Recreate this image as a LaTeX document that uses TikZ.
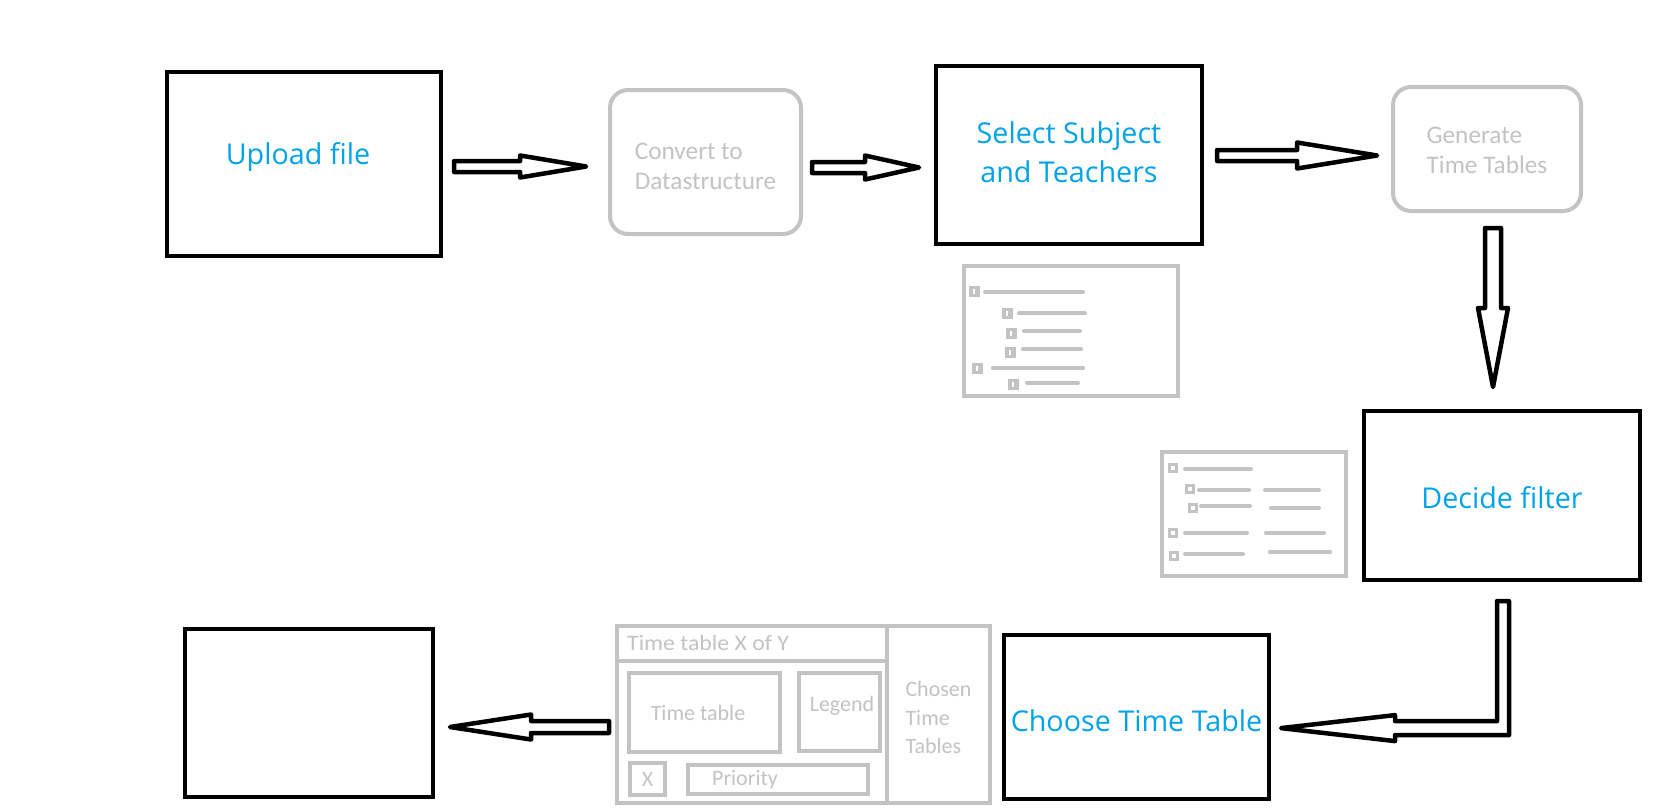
\documentclass[tikz,border=0pt]{standalone}
\usepackage{fontspec}
\setmainfont{Open Sans}
\newfontfamily\wirefont{Carlito}
\usetikzlibrary{calc}
\definecolor{paintblue}{RGB}{0,162,232}
\definecolor{wire}{RGB}{195,195,195}

% block arrow: tail coordinate, angle, total length, head length, shaft half width, head half width
\newcommand\blockarrow[6]{%
  \draw[arrowline, shift={(#1)}, rotate=#2]
    (0,-#5) -- (#3-#4,-#5) -- (#3-#4,-#6) -- (#3,0) -- (#3-#4,#6) -- (#3-#4,#5) -- (0,#5) -- cycle;}

\tikzset{
  flowbox/.style={draw=black, line width=4.2pt, inner sep=0pt, text=paintblue,
    font=\fontsize{28.7}{39}\selectfont, align=center},
  softbox/.style={draw=wire, line width=4pt, rounded corners=18pt, inner sep=0pt, text=wire,
    font=\wirefont\fontsize{25.3}{30}\selectfont, align=left},
  wirebox/.style={draw=wire, line width=4pt, inner sep=0pt, text=wire,
    font=\wirefont\fontsize{22}{28.5}\selectfont, align=left},
  wiretext/.style={inner sep=0pt, text=wire, font=\wirefont\fontsize{22}{28.5}\selectfont},
  wireline/.style={draw=wire, line width=4pt, line cap=round},
  arrowline/.style={draw=black, line width=4.5pt, line join=round, fill=white},
  treebox/.pic={\fill[wire] (-5.5,-5.5) rectangle (5.5,5.5);
                \fill[white] (-1,-2.5) rectangle (1,2.5);},
  filterbox/.pic={\draw[wire, line width=3pt] (-3.5,-3.5) rectangle (3.5,3.5);}
}

\begin{document}
\begin{tikzpicture}[x=1pt, y=-1pt]
\fill[white] (0,0) rectangle (1664,811);
\useasboundingbox (0,0) rectangle (1664,811);

% process steps (struts trim the vertical placement of the labels)
\node[flowbox, minimum width=274pt, minimum height=184pt] (upload) at (304,164)
  {\rule[-21pt]{0pt}{0pt}Upload file\hspace*{12pt}};
\node[softbox, minimum width=191pt, minimum height=144pt] (convert) at (705.5,162)
  {\rule{0pt}{25pt}Convert to\\Datastructure};
\node[flowbox, minimum width=266pt, minimum height=178pt] (select) at (1069,155)
  {Select Subject\\and Teachers\rule[-6pt]{0pt}{0pt}};
\node[softbox, minimum width=188pt, minimum height=124pt] (generate) at (1487,149)
  {\rule{0pt}{19pt}Generate\\Time Tables};
\node[flowbox, minimum width=276pt, minimum height=169pt] (decide) at (1502,495.5)
  {\rule{0pt}{26pt}Decide filter};
\node[flowbox, minimum width=265pt, minimum height=164pt] (choose) at (1136.5,717)
  {\rule{0pt}{30pt}Choose Time Table};
\node[flowbox, minimum width=248pt, minimum height=168pt] (final) at (309,713) {};

% tree selection sketch
\node[draw=wire, line width=4pt, inner sep=0pt, minimum width=214pt, minimum height=130pt] (tree) at (1071,331) {};
\pic at (974,291) {treebox};  \draw[wireline] (985,292) -- (1083,292);
\pic at (1007,313) {treebox}; \draw[wireline] (1019,313) -- (1085,313);
\pic at (1011,333) {treebox}; \draw[wireline] (1024,331) -- (1080,331);
\pic at (1010,352) {treebox}; \draw[wireline] (1023,349) -- (1081,349);
\pic at (977,368) {treebox};  \draw[wireline] (993,368) -- (1083,368);
\pic at (1013,384) {treebox}; \draw[wireline] (1027,383) -- (1078,383);

% filter sketch
\node[draw=wire, line width=4pt, inner sep=0pt, minimum width=184pt, minimum height=124pt] (filters) at (1254,514) {};
\pic at (1173,468) {filterbox}; \draw[wireline] (1185,469) -- (1251,469);
\pic at (1190,489) {filterbox}; \draw[wireline] (1199,490) -- (1249,490); \draw[wireline] (1265,490) -- (1319,490);
\pic at (1193,508) {filterbox}; \draw[wireline] (1201,506) -- (1250,506); \draw[wireline] (1271,508) -- (1319,508);
\pic at (1173,533) {filterbox}; \draw[wireline] (1185,533) -- (1247,533); \draw[wireline] (1266,533) -- (1324,533);
\pic at (1174,556) {filterbox}; \draw[wireline] (1185,554) -- (1243,554); \draw[wireline] (1270,552) -- (1330,552);

% time table view sketch
\node[wirebox, minimum width=270pt, minimum height=177pt] (mockframe) at (752,714.5) {};
\draw[wireline, line cap=butt] (mockframe.west |- 0,661) -- (mockframe.east |- 0,661);
\node[wiretext, anchor=west] (mocktitle) at (627,643) {\scalebox{1.08}[1]{Time table X of Y}};
\node[wirebox, minimum width=151pt, minimum height=79pt] (ttview) at (704.5,712.5) {};
\node[wiretext] (ttlabel) at (698,713) {Time table};
\node[wirebox, minimum width=81pt, minimum height=78pt] (legend) at (839.5,712) {};
\node[wiretext] (legendlabel) at (842,706) {Legend};
\node[wirebox, minimum width=35pt, minimum height=32pt] (xbtn) at (647.5,779) {X};
\node[wirebox, minimum width=180pt, minimum height=29pt] (prio) at (778,779.5) {};
\node[wiretext] (priolabel) at (745,780) {Priority};
\node[wirebox, minimum width=103pt, minimum height=177pt] (chosen) at (938.5,714.5)
  {\rule{0pt}{22pt}Chosen\\Time\\Tables};

% connectors
\coordinate (a1) at ($(upload.east)+(11,2.5)$);
\blockarrow{a1}{0}{132}{66}{5.5}{11}
\coordinate (a2) at ($(convert.east)+(9,5.5)$);
\blockarrow{a2}{0}{107}{54}{5.5}{12}
\coordinate (a3) at ($(select.east)+(13,0.5)$);
\blockarrow{a3}{0}{160}{80}{5.5}{13}
\coordinate (a4) at ($(generate.south)+(6,15)$);
\blockarrow{a4}{-90}{159}{79}{8}{15}
\coordinate (a5) at ($(decide.south)+(1,19)$);
\draw[arrowline, shift={(a5)}]
  (-6,0) -- (6,0) -- (6,134) -- (-108,134) -- (-108,140) -- (-222,127)
  -- (-108,114) -- (-108,120) -- (-6,120) -- cycle;
\coordinate (a6) at ($(mockframe.west)+(-6,12.5)$);
\blockarrow{a6}{180}{159}{81}{6}{12.5}
\end{tikzpicture}
\end{document}
